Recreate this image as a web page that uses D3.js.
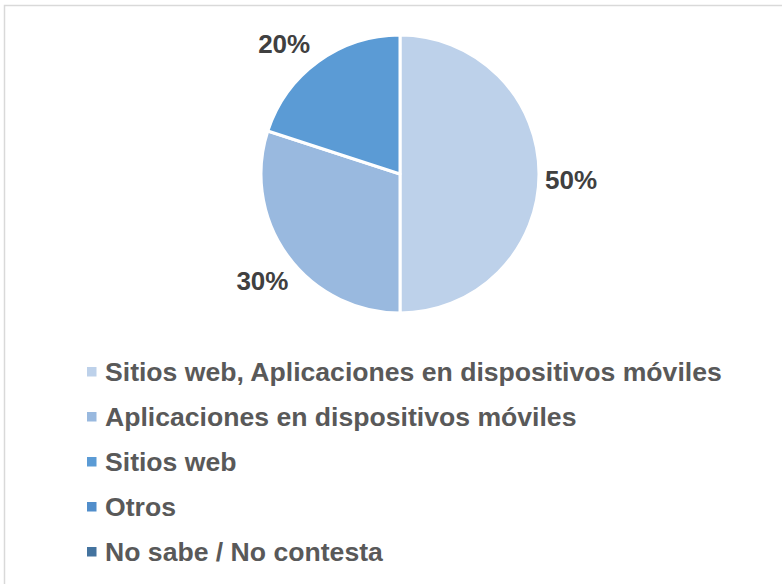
<!DOCTYPE html>
<html>
<head>
<meta charset="utf-8">
<script src="https://cdn.jsdelivr.net/npm/d3@7"></script>
<style>
  html, body { margin: 0; padding: 0; background: #fff; }
  svg { display: block; font-family: "Liberation Sans", Arial, sans-serif; }
</style>
</head>
<body>
<svg id="chart" width="782" height="584"></svg>
<script>
// Categories, shares (%) and slice colours
const categories = [
  "Sitios web, Aplicaciones en dispositivos móviles",
  "Aplicaciones en dispositivos móviles",
  "Sitios web",
  "Otros",
  "No sabe / No contesta"
];
const values = [50, 30, 20, 0, 0];
const colors = ["#bdd1ea", "#99b9df", "#5b9bd5", "#518ecb", "#44739f"];

const svg = d3.select("#chart");
const W = 782, H = 584;

// Chart area frame (runs off the right and bottom edges)
svg.append("rect")
  .attr("x", 4.5).attr("y", 5.5)
  .attr("width", W + 20).attr("height", H + 20)
  .attr("fill", "#fff")
  .attr("stroke", "#d9d9d9")
  .attr("stroke-width", 1.5);

const data = categories.map((c, i) => ({ name: c, value: values[i], color: colors[i] }));

const cx = 400, cy = 174, r = 139;
const pie = d3.pie().sort(null).value(d => d.value);
const arcs = pie(data);
const arc = d3.arc().innerRadius(0).outerRadius(r);

const g = svg.append("g").attr("transform", `translate(${cx},${cy})`);

g.selectAll("path.slice")
  .data(arcs.filter(a => a.data.value > 0))
  .join("path")
  .attr("class", "slice")
  .attr("d", arc)
  .attr("fill", d => d.data.color)
  .attr("stroke", "#fff")
  .attr("stroke-width", 3)
  .attr("stroke-linejoin", "round");

// Percentage labels placed just outside each slice
const labelArc = d3.arc().innerRadius(r + 36).outerRadius(r + 36);
const nudge = [[-4, 6], [4, 4], [-13, 12]];
g.selectAll("text.pct")
  .data(arcs.filter(a => a.data.value > 0))
  .join("text")
  .attr("class", "pct")
  .attr("x", (d, i) => labelArc.centroid(d)[0] + nudge[i][0])
  .attr("y", (d, i) => labelArc.centroid(d)[1] + nudge[i][1])
  .attr("text-anchor", "middle")
  .attr("dominant-baseline", "central")
  .attr("font-size", 26)
  .attr("font-weight", "bold")
  .attr("fill", "#404040")
  .text(d => d.data.value + "%");

// Legend
const legendY = d3.scaleBand()
  .domain(categories)
  .range([349, 574]);

const leg = svg.append("g").selectAll("g")
  .data(data)
  .join("g")
  .attr("transform", d => `translate(87,${legendY(d.name) + legendY.bandwidth() / 2})`);

leg.append("rect")
  .attr("x", 0).attr("y", -4.5)
  .attr("width", 9.5).attr("height", 9.5)
  .attr("fill", d => d.color);

leg.append("text")
  .attr("x", 18)
  .attr("y", 0)
  .attr("dominant-baseline", "central")
  .attr("font-size", 26.6)
  .attr("font-weight", "bold")
  .attr("fill", "#595959")
  .text(d => d.name);
</script>
</body>
</html>
